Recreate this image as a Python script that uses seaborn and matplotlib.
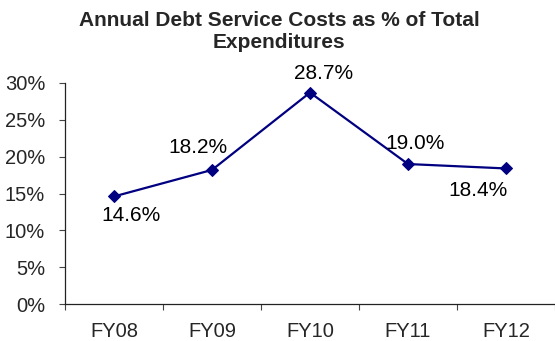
import matplotlib
matplotlib.use("Agg")
import matplotlib.pyplot as plt
import seaborn as sns
import pandas as pd
from matplotlib.ticker import FixedLocator, PercentFormatter

# Debt service costs as share of total expenditures, by fiscal year
years = ["FY08", "FY09", "FY10", "FY11", "FY12"]
share = [14.6, 18.2, 28.7, 19.0, 18.4]
# label offsets (points) so text sits clear of the line
label_dx = [12, -10, 10, 5, -20]
label_dy = [-14, 16, 14, 15, -16]

sns.set_style("ticks")
plt.rcParams["font.family"] = ["Liberation Sans", "DejaVu Sans"]

df = pd.DataFrame({"year": years, "share": share})

fig = plt.figure(figsize=(5.55, 3.41), dpi=100)
ax = fig.add_axes([0.1171, 0.1085, 0.8829, 0.6481])

navy = "#000080"
sns.lineplot(data=df, x="year", y="share", ax=ax, color=navy, linewidth=1.6,
             marker="D", markersize=6.5, markeredgecolor=navy,
             markerfacecolor=navy, sort=False)

for i, (v, dx, dy) in enumerate(zip(share, label_dx, label_dy)):
    ax.annotate(f"{v:.1f}%", (i, v), xytext=(dx, dy), textcoords="offset points",
                ha="center", va="center", fontsize=15, color="black")

ax.set_xlim(-0.5, len(years) - 0.5)
ax.set_ylim(0, 30)
ax.set_yticks(range(0, 31, 5))
ax.yaxis.set_major_formatter(PercentFormatter(decimals=0))
ax.set_xticks(range(len(years)))
ax.set_xticklabels(years)
ax.xaxis.set_minor_locator(FixedLocator([i - 0.5 for i in range(len(years) + 1)]))

ax.tick_params(axis="x", which="major", length=0, pad=13, labelsize=14.5)
ax.tick_params(axis="x", which="minor", length=4.3, width=0.8, color="#444444", direction="out")
ax.tick_params(axis="y", length=4.3, width=0.8, color="#444444", pad=10, labelsize=14.5)

ax.set_xlabel("")
ax.set_ylabel("")
for side in ("top", "right"):
    ax.spines[side].set_visible(False)
for side in ("left", "bottom"):
    ax.spines[side].set_color("#222222")
    ax.spines[side].set_linewidth(0.9)

fig.text(0.503, 0.9076, "Annual Debt Service Costs as % of Total\nExpenditures",
         ha="center", va="center", multialignment="center",
         fontsize=15, fontweight="bold", linespacing=1.15)

fig.savefig("out.png", dpi=100)
